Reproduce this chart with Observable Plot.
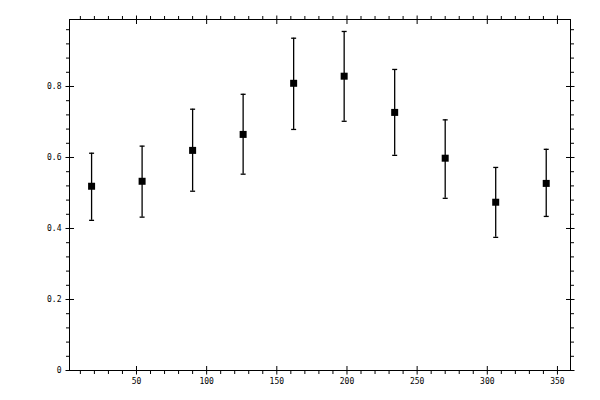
<!DOCTYPE html>
<html>
<head>
<meta charset="utf-8">
<script src="https://cdn.jsdelivr.net/npm/d3@7"></script>
<script src="https://cdn.jsdelivr.net/npm/@observablehq/plot@0.6"></script>
<style>
  html, body { margin: 0; padding: 0; background: #fff; }
  #chart svg { display: block; }
</style>
</head>
<body>
<div id="chart"></div>
<script>
// ---- data ----
const xValues = [18, 54, 90, 126, 162, 198, 234, 270, 306, 342];
const yValues = [0.519, 0.533, 0.620, 0.665, 0.809, 0.829, 0.727, 0.598, 0.474, 0.527];
const yLow    = [0.423, 0.432, 0.505, 0.553, 0.679, 0.702, 0.606, 0.485, 0.375, 0.434];
const yHigh   = [0.612, 0.632, 0.736, 0.778, 0.936, 0.955, 0.848, 0.706, 0.572, 0.623];
const xTickLabels = [50, 100, 150, 200, 250, 300, 350];
const yTickLabels = [0, 0.2, 0.4, 0.6, 0.8];
const xMinorTicks = [10,20,30,40,60,70,80,90,110,120,130,140,160,170,180,190,210,220,230,240,260,270,280,290,310,320,330,340];
const yMinorTicks = [0.04,0.08,0.12,0.16,0.24,0.28,0.32,0.36,0.44,0.48,0.52,0.56,0.64,0.68,0.72,0.76,0.84,0.88,0.92,0.96];

const xDomain = [2.26, 359.3];
const yDomain = [0, 0.9887];

const data = xValues.map((x, i) => ({x, y: yValues[i], lo: yLow[i], hi: yHigh[i]}));

// custom line symbols (fixed pixel lengths)
const seg = (x1, y1, x2, y2) => ({draw(ctx) { ctx.moveTo(x1, y1); ctx.lineTo(x2, y2); }});
const square = {draw(ctx) { ctx.rect(-3.5, -3.5, 7, 7); }};

const lineStyle = {stroke: "black", fill: "none", strokeWidth: 1, strokeLinecap: "butt"};
const [x0, x1] = xDomain;
const [y0, y1] = yDomain;

const chart = Plot.plot({
  width: 600,
  height: 400,
  marginLeft: 69,
  marginRight: 30,
  marginTop: 19,
  marginBottom: 30,
  style: {background: "white"},
  x: {domain: xDomain, axis: null},
  y: {domain: yDomain, axis: null},
  marks: [
    Plot.frame({stroke: "black", strokeWidth: 1}),
    // bottom ticks
    Plot.dot(xTickLabels, {x: d => d, y: () => y0, symbol: seg(0, -4.5, 0, 4), ...lineStyle}),
    Plot.dot(xMinorTicks, {x: d => d, y: () => y0, symbol: seg(0, 0, 0, 3.5), ...lineStyle}),
    // top ticks
    Plot.dot(xTickLabels, {x: d => d, y: () => y1, symbol: seg(0, -4, 0, 4.5), ...lineStyle}),
    Plot.dot(xMinorTicks, {x: d => d, y: () => y1, symbol: seg(0, 0, 0, -3.5), ...lineStyle}),
    // left ticks
    Plot.dot(yTickLabels, {y: d => d, x: () => x0, symbol: seg(-4, 0, 4.5, 0), ...lineStyle}),
    Plot.dot(yMinorTicks, {y: d => d, x: () => x0, symbol: seg(0, 0, -3.5, 0), ...lineStyle}),
    // right ticks
    Plot.dot(yTickLabels, {y: d => d, x: () => x1, symbol: seg(-4.5, 0, 4, 0), ...lineStyle}),
    Plot.dot(yMinorTicks, {y: d => d, x: () => x1, symbol: seg(0, 0, 3.5, 0), ...lineStyle}),
    // tick labels
    Plot.text(xTickLabels, {x: d => d, y: () => y0, text: d => String(d), dy: 11,
      fontFamily: "DejaVu Sans Mono", fontSize: 8, fill: "black"}),
    Plot.text(yTickLabels, {y: d => d, x: () => x0, text: d => String(d), dx: -8, textAnchor: "end",
      fontFamily: "DejaVu Sans Mono", fontSize: 8, fill: "black"}),
    // error bars
    Plot.ruleX(data, {x: "x", y1: "lo", y2: "hi", stroke: "black", strokeWidth: 1.3}),
    Plot.dot(data, {x: "x", y: "lo", symbol: seg(-2.5, 0, 2.5, 0), ...lineStyle, strokeWidth: 1.3}),
    Plot.dot(data, {x: "x", y: "hi", symbol: seg(-2.5, 0, 2.5, 0), ...lineStyle, strokeWidth: 1.3}),
    // points
    Plot.dot(data, {x: "x", y: "y", symbol: square, fill: "black", stroke: "none"})
  ]
});

document.getElementById("chart").appendChild(chart);
</script>
</body>
</html>
